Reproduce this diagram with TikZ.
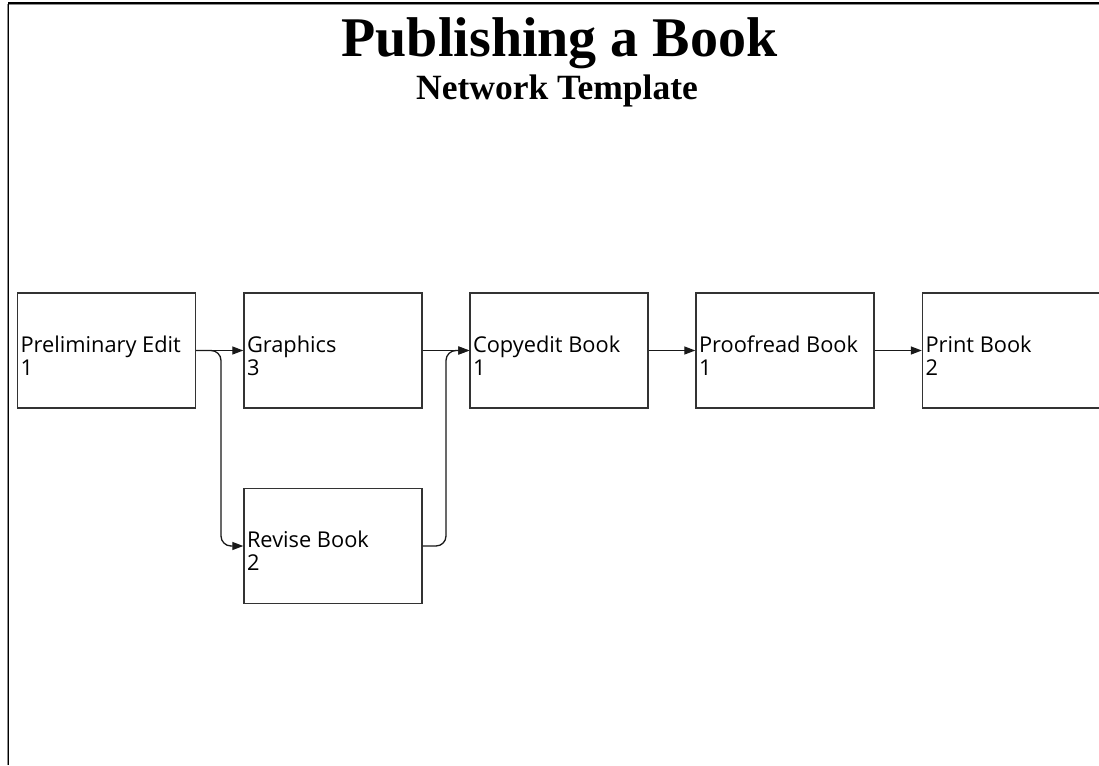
\documentclass[tikz,border=0pt]{standalone}
\usepackage{fontspec}
\setmainfont{Liberation Serif}
\newfontfamily\labelfont{Open Sans}
\usetikzlibrary{arrows.meta,calc}

\tikzset{
  taskbox/.style={draw=black!80, line width=1.4pt, minimum width=178pt,
    minimum height=115pt, inner sep=0pt},
  % base anchor of a two-line label sits on its second line
  tasklabel/.style={anchor=base west, align=left, inner sep=0pt,
    font=\labelfont\fontsize{21.8}{23}\selectfont},
  conn/.style={draw=black!90, line width=1.3pt,
    -{Triangle[length=11pt,width=8pt]}},
  titletext/.style={font=\bfseries\fontsize{56}{60}\selectfont, anchor=base},
  subtitletext/.style={font=\bfseries\fontsize{35.5}{38}\selectfont, anchor=base},
}

\begin{document}
\begin{tikzpicture}[x=1pt, y=-1pt]
  \useasboundingbox (0,0) rectangle (1099,765);
  \fill[white] (0,0) rectangle (1099,765);

  % page frame (top and left edges)
  \draw[black!45, line width=1pt] (7,765) -- (7,4.5) -- (1099,4.5);
  \draw[black, line width=1.5pt] (8.3,765) -- (8.3,3) -- (1099,3);

  % heading
  \node[titletext] (title) at (559.5,57) {Publishing a Book};
  \node[subtitletext] (subtitle) at (557,99.5) {Network Template};

  % tasks
  \node[taskbox] (pe) at (106.5,350.5) {};
  \node[taskbox] (gr) at (333,350.5) {};
  \node[taskbox] (ce) at (559,350.5) {};
  \node[taskbox] (pr) at (785,350.5) {};
  \node[taskbox] (pb) at (1011.5,350.5) {};
  \node[taskbox] (rv) at (333,546) {};

  \node[tasklabel] (pe-t) at ($(pe.west)+(3.5,24.8)$) {Preliminary Edit\\1};
  \node[tasklabel] (gr-t) at ($(gr.west)+(3.5,24.8)$) {Graphics\\3};
  \node[tasklabel] (ce-t) at ($(ce.west)+(3.5,24.8)$) {Copyedit Book\\1};
  \node[tasklabel] (pr-t) at ($(pr.west)+(3.5,24.8)$) {Proofread Book\\1};
  \node[tasklabel] (pb-t) at ($(pb.west)+(3.5,24.8)$) {Print Book\\2};
  \node[tasklabel] (rv-t) at ($(rv.west)+(3.5,24.0)$) {Revise Book\\2};

  % dependencies
  \coordinate (split) at (221,350.5);
  \coordinate (merge) at (446,350.5);
  \draw[conn] (pe.east) -- (gr.west);
  \draw[conn, rounded corners=10pt] (pe.east) -- (split) |- (rv.west);
  \draw[conn] (gr.east) -- (ce.west);
  \draw[conn, rounded corners=10pt] (rv.east) -| (merge) -- (ce.west);
  \draw[conn] (ce.east) -- (pr.west);
  \draw[conn] (pr.east) -- (pb.west);
\end{tikzpicture}
\end{document}
